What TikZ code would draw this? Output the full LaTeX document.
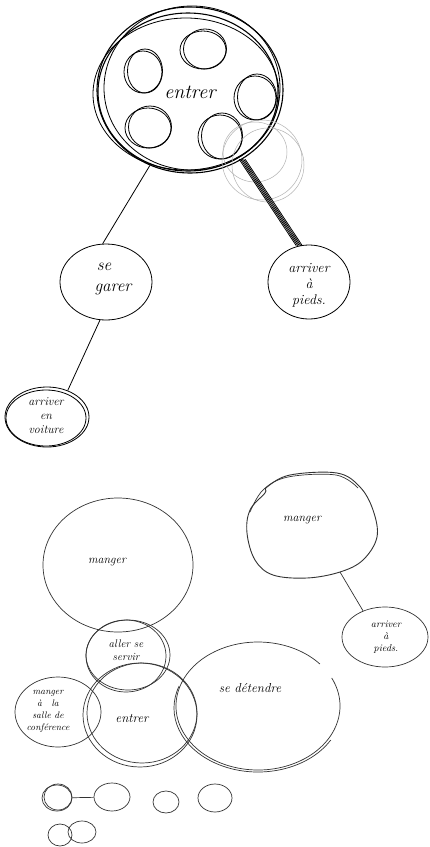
\documentclass[tikz,border=0pt]{standalone}
\usetikzlibrary{shapes.geometric}
\begin{document}
\begin{tikzpicture}[x=1pt,y=-1pt,
  ink/.style={draw=black, line width=1.1pt},
  thinink/.style={draw=black, line width=0.8pt},
  pencil/.style={draw=black!80, line width=0.7pt},
  faint/.style={draw=black!30, line width=0.5pt},
  bubble/.style={ellipse, inner sep=0pt},
  word/.style={align=center, inner sep=0pt, font=\itshape}]
\useasboundingbox[fill=white] (0,0) rectangle (429,847);

% ---------- upper map ----------
\node[bubble, ink, minimum width=186, minimum height=166] (entrer) at (190,90) {};
\draw[ink] (188,92) ellipse [x radius=90, y radius=79];
\draw[thinink] (192,88) ellipse [x radius=88, y radius=82];
\draw[thinink] (186,94) ellipse [x radius=93, y radius=76];
\node[word, font=\fontsize{20}{22}\selectfont\itshape] (entrer-t) at (190,92) {entrer};

% small rings inside the big one
\foreach \n/\cx/\cy/\rx/\ry in {a/203/50/23/19, b/143/72/19/21, c/255/98/21/22,
                                 d/148/128/23/20, e/220/137/22/22} {
  \node[bubble, thinink, minimum width=2*\rx, minimum height=2*\ry] (ring-\n) at (\cx,\cy) {};
  \draw[thinink] (\cx+2,\cy-1) ellipse [x radius=\rx-1.5, y radius=\ry+1];
}
\draw[faint] (262,160) ellipse [x radius=40, y radius=40];
\draw[faint] (255,152) ellipse [x radius=32, y radius=30];
\draw[faint] (268,165) ellipse [x radius=36, y radius=37];

\node[bubble, thinink, minimum width=92, minimum height=76] (garer) at (106,282) {};
\node[word, font=\fontsize{17}{19}\selectfont\itshape] (garer-t) at (104,279) {se\\[2pt]\hspace{18pt}garer};

\node[bubble, thinink, minimum width=82, minimum height=74] (pieds) at (309,282) {};
\node[word, font=\fontsize{14}{16}\selectfont\itshape] (pieds-t) at (309,285) {arriver\\à\\pieds.};

\node[bubble, thinink, minimum width=84, minimum height=60] (voiture) at (47,417) {};
\draw[thinink] (46,418) ellipse [x radius=40, y radius=28];
\node[word, font=\fontsize{12}{14}\selectfont\itshape] (voiture-t) at (46,416) {arriver\\en\\voiture};

% links of the upper map
\draw[thinink] (entrer.-118) -- (garer.95);
\foreach \s in {-3,-1.5,0,1.5,3}
  \draw[thinink] ([xshift=\s pt]entrer.-53) -- ([xshift=\s pt]pieds.105);
\draw[thinink] (garer.-99) -- (voiture.52);

% ---------- lower map ----------
\node[bubble, pencil, minimum width=150, minimum height=134] (manger) at (118,565) {};
\node[word, font=\fontsize{12}{12}\selectfont\itshape] (manger-t) at (107,562) {manger};

\draw[pencil, line width=0.9pt] plot[smooth cycle, tension=0.6] coordinates {
  (267,487) (290,475) (337,473) (360,487) (373,510) (377,537) (363,560)
  (340,572) (307,578) (273,575) (255,560) (247,533) (250,510) (265,493)};
\draw[pencil] plot[smooth, tension=0.6] coordinates {(250,512) (263,490) (288,477) (336,475) (358,488)};
\node[word, font=\fontsize{12}{12}\selectfont\itshape] (manger2-t) at (302,520) {manger};
\coordinate (manger2-foot) at (340,572);

\node[bubble, pencil, minimum width=86, minimum height=60] (pieds2) at (385,637) {};
\node[word, font=\fontsize{10}{12}\selectfont\itshape] (pieds2-t) at (386,637) {arriver\\à\\pieds.};
\draw[pencil] (manger2-foot) -- (pieds2.130);

\node[bubble, pencil, minimum width=84, minimum height=70] (servir) at (128,655) {};
\draw[pencil] (126,656) ellipse [x radius=40, y radius=36];
\node[word, font=\fontsize{11}{13}\selectfont\itshape] (servir-t) at (126,650) {aller se\\servir};

\node[bubble, pencil, minimum width=114, minimum height=104] (entrer2) at (140,715) {};
\draw[pencil] (142,713) ellipse [x radius=55, y radius=50];
\node[word, font=\fontsize{13}{13}\selectfont\itshape] (entrer2-t) at (132,718) {entrer};

\node[bubble, pencil, minimum width=86, minimum height=70] (salle) at (58,712) {};
\node[word, font=\fontsize{9.5}{12}\selectfont\itshape] (salle-t) at (48,711) {manger\\à\quad la\\salle de\\conférence};

\node[bubble, minimum width=164, minimum height=128] (detendre) at (258,706) {};
\draw[pencil] (258,706) ++(-26:82 and 64) arc[start angle=-26, end angle=319, x radius=82, y radius=64];
\draw[pencil] (258,708) ++(30:84 and 64) arc[start angle=30, end angle=200, x radius=84, y radius=64];
\node[word, font=\fontsize{13}{13}\selectfont\itshape] (detendre-t) at (250,688) {se détendre};

% ---------- doodles at the foot ----------
\node[bubble, pencil, minimum width=30, minimum height=26] (dot-a) at (57,798) {};
\draw[pencil] (58,797) ellipse [x radius=14, y radius=13];
\node[bubble, pencil, minimum width=36, minimum height=28] (dot-b) at (112,797) {};
\draw[pencil] (dot-a) -- (dot-b);
\node[bubble, pencil, minimum width=26, minimum height=22] (dot-c) at (166,802) {};
\node[bubble, pencil, minimum width=34, minimum height=28] (dot-d) at (215,798) {};
\node[bubble, pencil, minimum width=24, minimum height=22] (dot-e) at (60,835) {};
\node[bubble, pencil, minimum width=28, minimum height=22] (dot-f) at (82,832) {};
\end{tikzpicture}
\end{document}
